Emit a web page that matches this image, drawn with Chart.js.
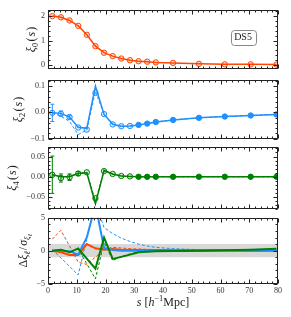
<!DOCTYPE html>
<html>
<head>
<meta charset="utf-8">
<script src="https://cdn.jsdelivr.net/npm/chart.js@4"></script>
<style>
  html, body { margin: 0; padding: 0; background: #fff; }
  #wrap { position: relative; width: 291px; height: 317px; overflow: hidden; }
  canvas { position: absolute; left: 0; }
</style>
</head>
<body>
<div id="wrap">
  <canvas id="c0" width="291" height="75" style="top:2px"></canvas>
  <canvas id="c1" width="291" height="75" style="top:72px"></canvas>
  <canvas id="c2" width="291" height="78" style="top:139px"></canvas>
  <canvas id="c3" width="291" height="107" style="top:210px"></canvas>
</div>
<script>
// separations s (h^-1 Mpc)
const sValues = [1.5, 4.5, 7.5, 10.5, 13.5, 16.5, 19.5, 22.5, 25.5, 28.5, 31.5, 34.5, 37.5, 43.5, 52.5, 61.5, 70.5, 79.5];

// monopole
const xi0Points = [2.01, 1.96, 1.83, 1.61, 1.24, 0.77, 0.50, 0.36, 0.26, 0.19, 0.15, 0.13, 0.10, 0.08, 0.04, 0.02, 0.02, 0.01];

// quadrupole
const xi2Points = [-0.002, -0.005, -0.018, -0.058, -0.066, 0.074, -0.007, -0.046, -0.053, -0.052, -0.048, -0.043, -0.037, -0.029, -0.021, -0.016, -0.012, -0.008];
const xi2Errors = [0.033, 0.010, 0.007, 0.004, 0.004, 0.004, 0.003, 0.003, 0.002, 0.002, 0.002, 0.002, 0.002, 0.002, 0.002, 0.002, 0.002, 0.002];
const xi2Solid = [-0.002, -0.004, -0.018, -0.057, -0.061, 0.100, -0.008, -0.045, -0.053, -0.052, -0.048, -0.043, -0.037, -0.029, -0.021, -0.016, -0.012, -0.008];
const xi2Dashed = [-0.002, -0.015, -0.035, -0.085, -0.067, 0.080, -0.008, -0.047, -0.054, -0.052, -0.048, -0.043, -0.037, -0.029, -0.021, -0.016, -0.012, -0.008];

// hexadecapole
const xi4Points = [0.005, -0.003, -0.001, 0.008, 0.011, -0.053, 0.014, 0.007, 0.002, 0.001, 0.0, 0.0, 0.0, 0.0, 0.0, 0.0, 0.0, 0.0];
const xi4Errors = [0.046, 0.010, 0.008, 0.005, 0.003, 0.003, 0.002, 0.001, 0.001, 0.001, 0.001, 0.001, 0.001, 0.001, 0.001, 0.001, 0.001, 0.001];
const xi4Solid = [0.005, 0.000, 0.000, 0.008, 0.010, -0.067, 0.016, 0.007, 0.002, 0.001, 0.0, 0.0, 0.0, 0.0, 0.0, 0.0, 0.0, 0.0];
const xi4Dashed = [0.005, 0.000, 0.001, 0.009, 0.011, -0.060, 0.014, 0.006, 0.002, 0.001, 0.0, 0.0, 0.0, 0.0, 0.0, 0.0, 0.0, 0.0];

// residuals in units of sigma
const dXi0Solid = [0.0, -0.25, -0.65, -0.65, 1.0, 0.35, 0.15, 0.25, 0.15, 0.1, 0.1, 0.1, 0.1, 0.05, 0.05, 0.05, 0.0, 0.0];
const dXi0Dashed = [1.75, 3.1, 0.7, -1.75, -2.1, -1.0, 0.2, 0.5, 0.4, 0.3, 0.25, 0.2, 0.15, 0.1, 0.05, 0.0, 0.0, 0.0];
const dXi2Solid = [0.0, 0.0, -0.1, -0.6, 2.0, 7.0, 0.4, 0.1, 0.0, 0.0, 0.0, 0.0, 0.0, 0.0, 0.0, 0.0, 0.0, 0.0];
const dXi2Dashed = [0.15, -1.1, -2.4, -3.7, 1.8, 7.4, 3.5, 2.6, 1.9, 1.4, 1.0, 0.7, 0.5, 0.3, 0.15, 0.05, 0.0, 0.0];
const dXi4Solid = [0.0, 0.15, -0.25, 0.35, -1.2, -2.75, 2.0, -1.25, -0.95, -0.6, -0.25, -0.15, -0.1, -0.05, 0.0, 0.05, 0.15, 0.3];
const dXi4Dashed = [0.0, 0.1, -0.2, 0.2, -2.0, -4.3, 1.3, -1.5, -0.9, -0.5, -0.2, -0.1, -0.05, 0.0, 0.0, 0.05, 0.1, 0.2];
const sigmaBand = [-1, 1];

// ticks
const xTicks = [0, 10, 20, 30, 40, 50, 60, 70, 80];
const y0Ticks = [0, 1, 2];
const y0TickLabels = ["0", "1", "2"];
const y2Ticks = [-0.1, 0.0, 0.1];
const y2TickLabels = ["\u22120.1", "0.0", "0.1"];
const y4Ticks = [-0.05, 0.0, 0.05];
const y4TickLabels = ["\u22120.05", "0.00", "0.05"];
const yDTicks = [-5, 0, 5];
const yDTickLabels = ["\u22125", "0", "5"];

const ORANGE = "#ff4500";
const BLUE = "#1e90ff";
const GREEN = "#008000";
const FAMILY = '"Liberation Serif", "DejaVu Serif", serif';
const INK = "#222";

const pts = arr => arr.map((v, i) => ({ x: sValues[i], y: v }));

// rotated / plain text with sub- and superscripts
function drawRich(ctx, parts, cx, cy, rot, size) {
  ctx.save();
  ctx.translate(cx, cy);
  if (rot) ctx.rotate(-Math.PI / 2);
  const pieces = parts.map(p => {
    let fs = size, dy = 0;
    if (p.sub) { fs = size * 0.7; dy = size * 0.3; }
    if (p.sub2) { fs = size * 0.5; dy = size * 0.5; }
    if (p.sup) { fs = size * 0.7; dy = -size * 0.38; }
    const font = (p.it ? "italic " : "") + fs + "px " + FAMILY;
    ctx.font = font;
    return { t: p.t, font, dy, gap: p.gap || 0, w: ctx.measureText(p.t).width };
  });
  const total = pieces.reduce((s, p) => s + p.w + p.gap, 0);
  let x = -total / 2;
  ctx.textBaseline = "middle";
  ctx.textAlign = "left";
  ctx.fillStyle = INK;
  pieces.forEach(p => {
    x += p.gap;
    ctx.font = p.font;
    ctx.fillText(p.t, x, p.dy);
    x += p.w;
  });
  ctx.restore();
}

// frame with inward major/minor ticks on all four sides
const frameTicks = {
  id: "frameTicks",
  afterDatasetsDraw(chart, args, opts) {
    const { ctx, chartArea: a, scales } = chart;
    ctx.save();
    ctx.strokeStyle = INK;
    ctx.lineWidth = 1;
    const L = Math.round(a.left) + 0.5, R = Math.round(a.right) - 0.5;
    const T = Math.round(a.top) + 0.5, B = Math.round(a.bottom) - 0.5;
    ctx.strokeRect(L, T, R - L, B - T);
    const walk = (scale, major, minor, fn) => {
      const start = Math.ceil(scale.min / minor - 1e-9);
      for (let k = start; k * minor <= scale.max + 1e-9; k++) {
        const v = k * minor;
        const isMajor = Math.abs(v / major - Math.round(v / major)) < 1e-6;
        fn(Math.round(scale.getPixelForValue(v)) + 0.5, isMajor ? 4 : 2);
      }
    };
    ctx.beginPath();
    walk(scales.x, opts.xMajor, opts.xMinor, (p, len) => {
      ctx.moveTo(p, B); ctx.lineTo(p, B - len);
      ctx.moveTo(p, T); ctx.lineTo(p, T + len);
    });
    walk(scales.y, opts.yMajor, opts.yMinor, (p, len) => {
      ctx.moveTo(L, p); ctx.lineTo(L + len, p);
      ctx.moveTo(R, p); ctx.lineTo(R - len, p);
    });
    ctx.stroke();
    ctx.restore();
  }
};

// vertical error bars for datasets with an "errors" array
const errorBars = {
  id: "errorBars",
  afterDatasetsDraw(chart) {
    const { ctx } = chart;
    const yScale = chart.scales.y;
    chart.data.datasets.forEach((ds, i) => {
      if (!ds.errors) return;
      const meta = chart.getDatasetMeta(i);
      ctx.save();
      ctx.strokeStyle = ds.borderColor;
      ctx.lineWidth = 1;
      meta.data.forEach((el, j) => {
        const e = ds.errors[j];
        if (!e) return;
        const yTop = yScale.getPixelForValue(ds.data[j].y + e);
        const yBot = yScale.getPixelForValue(ds.data[j].y - e);
        if (yBot - yTop < 3) return;
        ctx.beginPath();
        ctx.moveTo(el.x, yTop); ctx.lineTo(el.x, yBot);
        ctx.moveTo(el.x - 2, yTop); ctx.lineTo(el.x + 2, yTop);
        ctx.moveTo(el.x - 2, yBot); ctx.lineTo(el.x + 2, yBot);
        ctx.stroke();
      });
      ctx.restore();
    });
  }
};

// shaded +-1 sigma band
const band = {
  id: "band",
  beforeDatasetsDraw(chart, args, opts) {
    if (!opts.range) return;
    const { ctx, chartArea: a, scales } = chart;
    const y1 = scales.y.getPixelForValue(opts.range[1]);
    const y2 = scales.y.getPixelForValue(opts.range[0]);
    ctx.save();
    ctx.fillStyle = "#d8d8d8";
    ctx.fillRect(a.left, y1, a.right - a.left, y2 - y1);
    ctx.restore();
  }
};

// axis labels and annotation text
const labels = {
  id: "labels",
  afterDraw(chart, args, opts) {
    const { ctx, chartArea: a } = chart;
    (opts.items || []).forEach(it => {
      const cy = it.cy !== undefined ? it.cy : (a.top + a.bottom) / 2;
      drawRich(ctx, it.parts, it.cx, cy, it.rot, it.size);
    });
    if (opts.box) {
      const b = opts.box;
      const cx = a.left + b.fx * (a.right - a.left);
      const cy = a.top + b.fy * (a.bottom - a.top);
      ctx.save();
      ctx.font = b.size + "px " + FAMILY;
      const w = ctx.measureText(b.text).width + 7;
      const h = 15;
      ctx.strokeStyle = "#888";
      ctx.lineWidth = 1;
      ctx.beginPath();
      ctx.roundRect(Math.round(cx - w / 2) + 0.5, Math.round(cy - h / 2) + 0.5, Math.round(w), h, 3);
      ctx.stroke();
      ctx.fillStyle = INK;
      ctx.textAlign = "center";
      ctx.textBaseline = "middle";
      ctx.fillText(b.text, cx, cy + 0.5);
      ctx.restore();
    }
  }
};

Chart.register(frameTicks, errorBars, band, labels);

function panel(id, cfg) {
  const tickFont = { family: FAMILY, size: 8 };
  return new Chart(document.getElementById(id), {
    type: "line",
    data: { datasets: cfg.datasets },
    options: {
      responsive: false,
      animation: false,
      events: [],
      layout: { padding: cfg.padding },
      plugins: {
        legend: { display: false },
        tooltip: { enabled: false },
        frameTicks: { xMajor: 10, xMinor: 2, yMajor: cfg.yMajor, yMinor: cfg.yMinor },
        band: { range: cfg.band },
        labels: { items: cfg.labels, box: cfg.box }
      },
      scales: {
        x: {
          type: "linear", min: 0, max: 80,
          display: !!cfg.showX,
          afterBuildTicks: s => { s.ticks = xTicks.map(v => ({ value: v })); },
          afterFit: s => { if (cfg.xHeight) s.height = cfg.xHeight; },
          grid: { display: false, drawTicks: false },
          border: { display: false },
          ticks: { font: tickFont, color: "#333", padding: 3, maxRotation: 0 }
        },
        y: {
          type: "linear", min: cfg.yMin, max: cfg.yMax,
          afterFit: s => { s.width = 48; },
          afterBuildTicks: s => { s.ticks = cfg.yTicks.map(v => ({ value: v })); },
          grid: { display: false, drawTicks: false },
          border: { display: false },
          ticks: {
            font: tickFont, color: "#333", padding: 3,
            callback: (v, i) => cfg.yTickLabels[i]
          }
        }
      }
    }
  });
}

const lineDs = (arr, color, extra) => Object.assign({
  data: pts(arr), borderColor: color, backgroundColor: color,
  borderWidth: 1.5, pointRadius: 0, tension: 0, fill: false
}, extra || {});

const markerDs = (arr, color, fillColor, errors) => ({
  data: pts(arr), borderColor: color, showLine: false,
  pointRadius: 2.7, pointBorderWidth: 1, pointBorderColor: color,
  pointBackgroundColor: ctx => (ctx.parsed && ctx.parsed.x > 30 ? color : fillColor),
  errors: errors
});

const ylab = (n) => [
  { t: "\u03be", it: 1 }, { t: n, sub: 1 },
  { t: "(", gap: 1.5 }, { t: "s", it: 1, gap: 1 }, { t: ")", gap: 1 }
];

// monopole panel
panel("c0", {
  padding: { top: 6, bottom: 6, left: 0, right: 13 },
  yMin: -0.18, yMax: 2.27, yTicks: y0Ticks, yTickLabels: y0TickLabels, yMajor: 1, yMinor: 0.2,
  labels: [{ cx: 32, rot: true, size: 12, parts: ylab("0") }],
  box: { text: "DS5", size: 10, fx: 0.848, fy: 0.46 },
  datasets: [
    Object.assign(lineDs(xi0Points, ORANGE), {
      pointRadius: 2.7, pointBorderWidth: 1, pointBackgroundColor: "rgba(255,69,0,0.2)"
    })
  ]
});

// quadrupole panel
panel("c1", {
  padding: { top: 6, bottom: 6, left: 0, right: 13 },
  yMin: -0.1025, yMax: 0.124, yTicks: y2Ticks, yTickLabels: y2TickLabels, yMajor: 0.1, yMinor: 0.02,
  labels: [{ cx: 19, rot: true, size: 12, parts: ylab("2") }],
  datasets: [
    markerDs(xi2Points, BLUE, "rgba(30,144,255,0.2)", xi2Errors),
    lineDs(xi2Solid, BLUE),
    lineDs(xi2Dashed, BLUE, { borderWidth: 1, borderDash: [3, 2] })
  ]
});

// hexadecapole panel
panel("c2", {
  padding: { top: 6, bottom: 6, left: 0, right: 13 },
  yMin: -0.080, yMax: 0.074, yTicks: y4Ticks, yTickLabels: y4TickLabels, yMajor: 0.05, yMinor: 0.01,
  labels: [{ cx: 13, rot: true, size: 12, parts: ylab("4") }],
  datasets: [
    markerDs(xi4Points, GREEN, "rgba(0,128,0,0.2)", xi4Errors),
    lineDs(xi4Solid, GREEN),
    lineDs(xi4Dashed, GREEN, { borderWidth: 1, borderDash: [3, 2] })
  ]
});

// residual panel
panel("c3", {
  padding: { top: 6.5, bottom: 0, left: 0, right: 13 },
  showX: true, xHeight: 33.5,
  yMin: -5, yMax: 5, yTicks: yDTicks, yTickLabels: yDTickLabels, yMajor: 5, yMinor: 1,
  band: sigmaBand,
  labels: [
    { cx: 24, rot: true, size: 12, parts: [
      { t: "\u0394" }, { t: "\u03be", it: 1 }, { t: "\u2113", sub: 1, it: 1 },
      { t: "/", gap: 1 }, { t: "\u03c3", it: 1, gap: 1 }, { t: "\u03be", sub: 1, it: 1 }, { t: "\u2113", sub2: 1, it: 1 }
    ] },
    { cx: 163, cy: 93, rot: false, size: 12, parts: [
      { t: "s", it: 1 }, { t: "[", gap: 3 }, { t: "h", it: 1 }, { t: "\u22121", sup: 1 },
      { t: "Mpc" }, { t: "]" }
    ] }
  ],
  datasets: [
    lineDs(dXi4Solid, GREEN, { borderWidth: 2, order: 0 }),
    lineDs(dXi2Solid, BLUE, { borderWidth: 2, order: 1 }),
    lineDs(dXi0Solid, ORANGE, { borderWidth: 2, order: 2 }),
    lineDs(dXi4Dashed, GREEN, { borderWidth: 1, borderDash: [3, 2], order: 3 }),
    lineDs(dXi2Dashed, BLUE, { borderWidth: 1, borderDash: [3, 2], order: 4 }),
    lineDs(dXi0Dashed, ORANGE, { borderWidth: 1, borderDash: [3, 2], order: 5 })
  ]
});
</script>
</body>
</html>
